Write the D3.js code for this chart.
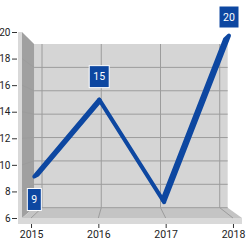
<!DOCTYPE html>
<html><head><meta charset="utf-8">
<script src="https://cdn.jsdelivr.net/npm/d3@7"></script>
<style>
html,body{margin:0;padding:0;background:#fff;}
svg{display:block;font-family:Roboto,"Open Sans",sans-serif;}
</style></head>
<body>
<svg id="c" width="250" height="244"></svg>
<script>
const categories = ["2015","2016","2017","2018"];
const values = [9, 15, 7, 20];
const labelPlacement = ["below","above","none","above"];
const yTicks = [6, 8, 10, 12, 14, 16, 18, 20];

(function () {
const svg = d3.select("#c");
const pL = 22, pR = 242, pT = 32, pB = 218;
const vp = [122.7, 132], depthShrink = 0.12;
const x = d3.scalePoint().domain(categories).range([pL, pR]).padding(0.134);
const y = d3.scaleLinear().domain([6, 20]).range([pB, pT]);
const P = (xf, yf, d) => {
  const k = 1 - depthShrink * d;
  return [vp[0] + k * (xf - vp[0]), vp[1] + k * (yf - vp[1])];
};
const poly = pts => pts.map(p => p.join(",")).join(" ");

const g = svg.append("g");
g.append("polygon").attr("points", poly([P(pL,pT,1),P(pR,pT,1),P(pR,pB,1),P(pL,pB,1)]))
  .attr("fill", "#d5d5d5");
g.append("polygon").attr("points", poly([P(pL,pT,0),P(pL,pT,1),P(pL,pB,1),P(pL,pB,0)]))
  .attr("fill", "#a0a0a0");
g.append("polygon").attr("points", poly([P(pL,pB,0),P(pR,pB,0),P(pR,pB,1),P(pL,pB,1)]))
  .attr("fill", "#c4c4c4");
g.append("rect").attr("x", 18).attr("y", pB).attr("width", pR - 18).attr("height", 6).attr("fill", "#d9d9d9");
g.append("rect").attr("x", 18).attr("y", pT).attr("width", pL - 18).attr("height", pB - pT + 6).attr("fill", "#d9d9d9");

const gc = "#9c9c9c";
yTicks.forEach(v => {
  const a = P(pL, y(v), 1), b = P(pR, y(v), 1), c = P(pL, y(v), 0);
  if (v !== 20) g.append("line").attr("x1", a[0]).attr("y1", a[1]).attr("x2", b[0]).attr("y2", b[1]).attr("stroke", gc);
  if (v !== 20 && v !== 6) g.append("line").attr("x1", c[0]).attr("y1", c[1]).attr("x2", a[0]).attr("y2", a[1]).attr("stroke", gc);
});
categories.forEach(cat => {
  const a = P(x(cat), pT, 1), b = P(x(cat), pB, 1), c = P(x(cat), pB, 0);
  g.append("line").attr("x1", a[0]).attr("y1", a[1]).attr("x2", b[0]).attr("y2", b[1]).attr("stroke", gc);
  g.append("line").attr("x1", b[0]).attr("y1", b[1]).attr("x2", c[0]).attr("y2", c[1]).attr("stroke", gc);
});

const d0 = 0.3, d1 = 0.6, blue = "#0d47a1";
for (let i = 0; i < values.length - 1; i++) {
  const xa = x(categories[i]), ya = y(values[i]);
  const xb = x(categories[i+1]), yb = y(values[i+1]);
  g.append("polygon")
    .attr("points", poly([P(xa,ya,d0),P(xb,yb,d0),P(xb,yb,d1),P(xa,ya,d1)]))
    .attr("fill", blue).attr("stroke", blue).attr("stroke-width", 4)
    .attr("stroke-linejoin", "round");
}

const yAx = svg.append("g").attr("transform", "translate(17,0)")
  .call(d3.axisLeft(y).tickValues(yTicks).tickSize(5).tickPadding(1.5).tickFormat(d3.format("d")));
yAx.select(".domain").remove();
yAx.selectAll("text").attr("font-size", 10).attr("font-family", "Roboto,sans-serif").attr("fill", "#222");
yAx.selectAll("line").attr("stroke", "#333");

const xAx = svg.append("g").attr("transform", `translate(0,${pB + 6})`)
  .call(d3.axisBottom(x).tickSize(4).tickPadding(3));
xAx.select(".domain").remove();
xAx.selectAll("text").attr("font-size", 10.5).attr("font-family", "Roboto,sans-serif").attr("fill", "#222");
xAx.selectAll("line").attr("stroke", "#333");

values.forEach((v, i) => {
  if (labelPlacement[i] === "none") return;
  const p = P(x(categories[i]), y(v), d0);
  const txt = String(v);
  const w = txt.length * 6 + 8, h = 22;
  const cy = labelPlacement[i] === "above" ? p[1] - 23 : p[1] + 23;
  let ty = cy - h / 2;
  if (ty < 6) ty = 6;
  const lg = svg.append("g");
  lg.append("rect").attr("x", p[0] - w / 2).attr("y", ty).attr("width", w).attr("height", h)
    .attr("fill", blue).attr("stroke", "#fff").attr("stroke-width", 1);
  lg.append("text").attr("x", p[0]).attr("y", ty + h / 2).attr("dy", "0.36em")
    .attr("text-anchor", "middle").attr("fill", "#fff").attr("font-size", 10.5).text(txt);
});
})();
</script>
</body></html>
